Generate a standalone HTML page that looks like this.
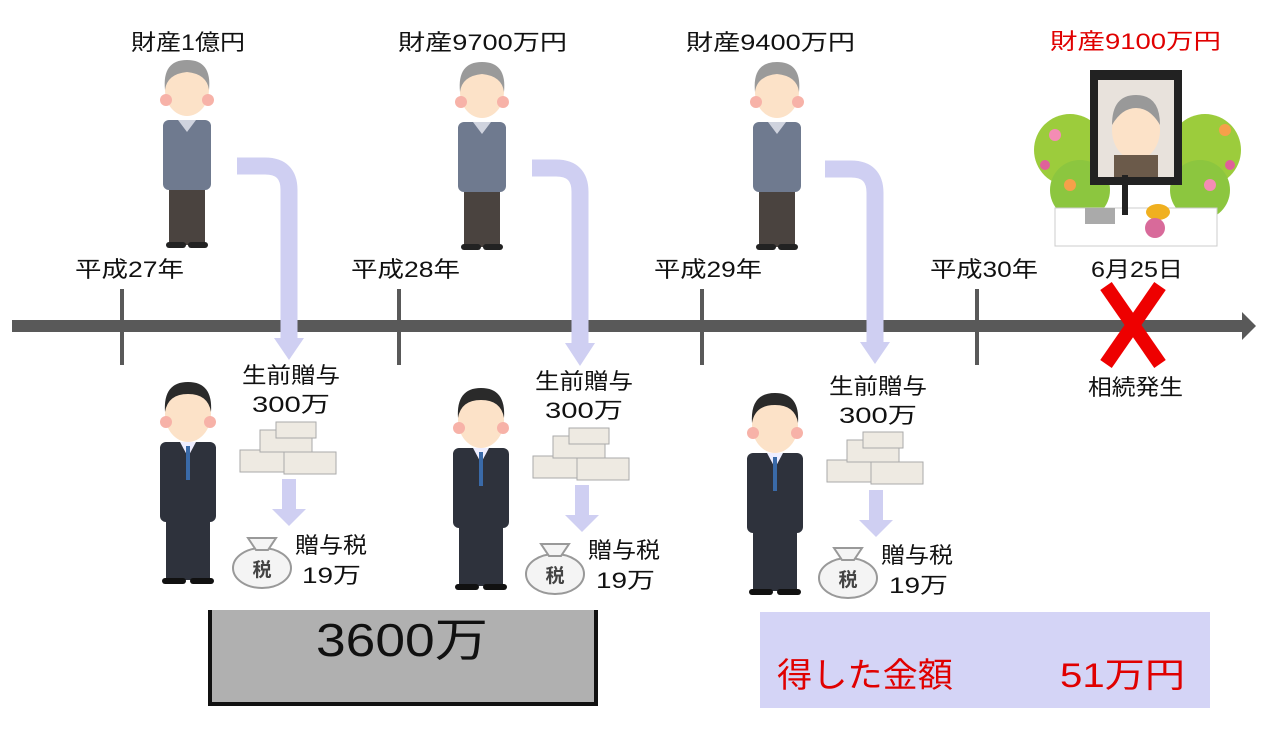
<!DOCTYPE html>
<html><head><meta charset="utf-8"><style>
body{margin:0;background:#fff;}
svg{display:block;}
text{font-family:"Liberation Sans","Noto Sans CJK JP",sans-serif;}
</style></head><body>
<svg width="1280" height="736" viewBox="0 0 1280 736" xmlns="http://www.w3.org/2000/svg">
<defs>
<g id="old">
  <ellipse cx="27" cy="30" rx="22" ry="26" fill="#fce2c8"/>
  <path d="M5 30 Q2 0 27 0 Q52 0 49 30 Q47 14 27 12 Q7 14 5 30Z" fill="#9a9a9a"/>
  <circle cx="6" cy="40" r="6" fill="#f7b2a8"/><circle cx="48" cy="40" r="6" fill="#f7b2a8"/>
  <rect x="3" y="60" width="48" height="70" rx="6" fill="#6f7a8f"/>
  <path d="M18 60 L27 72 L36 60Z" fill="#cfd3de"/>
  <rect x="9" y="130" width="36" height="55" fill="#4a433f"/>
  <rect x="6" y="182" width="20" height="6" rx="3" fill="#222"/><rect x="28" y="182" width="20" height="6" rx="3" fill="#222"/>
</g>
<g id="man">
  <ellipse cx="30" cy="32" rx="23" ry="28" fill="#fce2c8"/>
  <path d="M7 30 Q5 0 30 0 Q55 0 53 30 Q50 12 30 12 Q10 12 7 30Z" fill="#2a2a2a"/>
  <circle cx="8" cy="40" r="6" fill="#f7b2a8"/><circle cx="52" cy="40" r="6" fill="#f7b2a8"/>
  <rect x="2" y="60" width="56" height="80" rx="6" fill="#2e323c"/>
  <path d="M22 60 L30 75 L38 60Z" fill="#eef"/>
  <rect x="28" y="64" width="4" height="34" fill="#3a6aa8"/>
  <rect x="8" y="140" width="44" height="58" fill="#2e323c"/>
  <rect x="4" y="196" width="24" height="6" rx="3" fill="#111"/><rect x="32" y="196" width="24" height="6" rx="3" fill="#111"/>
</g>
<g id="money">
  <g fill="#eeeae2" stroke="#aaa" stroke-width="1">
  <rect x="0" y="28" width="46" height="22"/><rect x="44" y="30" width="52" height="22"/>
  <rect x="20" y="8" width="52" height="22"/><rect x="36" y="0" width="40" height="16"/>
  </g>
</g>
<g id="bag">
  <ellipse cx="30" cy="36" rx="29" ry="20" fill="#f4f4f4" stroke="#999" stroke-width="2"/>
  <path d="M16 6 L44 6 L36 18 L24 18Z" fill="#f4f4f4" stroke="#999" stroke-width="2"/>
  <text x="30" y="44" font-size="19" font-weight="bold" text-anchor="middle" fill="#444">税</text>
</g>
</defs>

<!-- timeline -->
<rect x="12" y="320" width="1232" height="12" fill="#595959"/>
<path d="M1242 312 L1256 326 L1242 340Z" fill="#595959"/>
<g fill="#595959">
<rect x="120" y="289" width="4" height="76"/>
<rect x="397" y="289" width="4" height="76"/>
<rect x="700" y="289" width="4" height="76"/>
<rect x="975" y="289" width="4" height="76"/>
</g>

<g font-size="22" fill="#111" lengthAdjust="spacingAndGlyphs">
<text x="75" y="277" textLength="109" lengthAdjust="spacingAndGlyphs">平成27年</text>
<text x="351" y="277" textLength="109" lengthAdjust="spacingAndGlyphs">平成28年</text>
<text x="654" y="277" textLength="108" lengthAdjust="spacingAndGlyphs">平成29年</text>
<text x="930" y="277" textLength="108" lengthAdjust="spacingAndGlyphs">平成30年</text>
<text x="1091" y="277" textLength="92" lengthAdjust="spacingAndGlyphs">6月25日</text>
<text x="131" y="50" textLength="114" lengthAdjust="spacingAndGlyphs">財産1億円</text>
<text x="398" y="50" textLength="169" lengthAdjust="spacingAndGlyphs">財産9700万円</text>
<text x="686" y="50" textLength="169" lengthAdjust="spacingAndGlyphs">財産9400万円</text>
<text x="1050" y="49" fill="#e00000" textLength="171" lengthAdjust="spacingAndGlyphs">財産9100万円</text>
<text x="1088" y="395" textLength="95" lengthAdjust="spacingAndGlyphs">相続発生</text>
</g>

<!-- curved arrows -->
<g fill="none" stroke="#cfcff2" stroke-width="17">
<path d="M237 166 L265 166 Q289 166 289 190 L289 340"/>
<path d="M532 168 L556 168 Q580 168 580 192 L580 345"/>
<path d="M825 169 L851 169 Q875 169 875 193 L875 345"/>
</g>
<g fill="#cfcff2">
<path d="M274 338 L304 338 L289 360Z"/>
<path d="M565 343 L595 343 L580 366Z"/>
<path d="M860 342 L890 342 L875 364Z"/>
</g>

<!-- people -->
<use href="#old" x="160" y="60"/>
<use href="#old" x="455" y="62"/>
<use href="#old" x="750" y="62"/>
<use href="#man" x="158" y="382"/>
<use href="#man" x="451" y="388"/>
<use href="#man" x="745" y="393"/>

<!-- gifts -->
<g font-size="22" fill="#111">
<text x="242" y="383" textLength="98" lengthAdjust="spacingAndGlyphs">生前贈与</text><text x="252" y="412" textLength="78" lengthAdjust="spacingAndGlyphs">300万</text>
<text x="535" y="389" textLength="98" lengthAdjust="spacingAndGlyphs">生前贈与</text><text x="545" y="418" textLength="78" lengthAdjust="spacingAndGlyphs">300万</text>
<text x="829" y="394" textLength="98" lengthAdjust="spacingAndGlyphs">生前贈与</text><text x="839" y="423" textLength="78" lengthAdjust="spacingAndGlyphs">300万</text>
</g>
<use href="#money" x="240" y="422"/>
<use href="#money" x="533" y="428"/>
<use href="#money" x="827" y="432"/>
<g fill="#cfcff2">
<rect x="282" y="479" width="14" height="30"/><path d="M272 509 L306 509 L289 526Z"/>
<rect x="575" y="485" width="14" height="30"/><path d="M565 515 L599 515 L582 532Z"/>
<rect x="869" y="490" width="14" height="30"/><path d="M859 520 L893 520 L876 537Z"/>
</g>
<use href="#bag" x="232" y="532"/>
<use href="#bag" x="525" y="538"/>
<use href="#bag" x="818" y="542"/>
<g font-size="22" fill="#111">
<text x="295" y="553" textLength="72" lengthAdjust="spacingAndGlyphs">贈与税</text><text x="302" y="583" textLength="59" lengthAdjust="spacingAndGlyphs">19万</text>
<text x="588" y="558" textLength="72" lengthAdjust="spacingAndGlyphs">贈与税</text><text x="596" y="588" textLength="59" lengthAdjust="spacingAndGlyphs">19万</text>
<text x="881" y="563" textLength="72" lengthAdjust="spacingAndGlyphs">贈与税</text><text x="889" y="593" textLength="59" lengthAdjust="spacingAndGlyphs">19万</text>
</g>

<!-- memorial -->
<g>
<circle cx="1070" cy="150" r="36" fill="#9ccc3c"/>
<circle cx="1205" cy="150" r="36" fill="#9ccc3c"/>
<circle cx="1080" cy="190" r="30" fill="#8cc63f"/>
<circle cx="1200" cy="190" r="30" fill="#8cc63f"/>
<circle cx="1055" cy="135" r="6" fill="#f48cb4"/><circle cx="1225" cy="130" r="6" fill="#f6a04a"/>
<circle cx="1070" cy="185" r="6" fill="#f6a04a"/><circle cx="1210" cy="185" r="6" fill="#f48cb4"/>
<circle cx="1045" cy="165" r="5" fill="#e0609a"/><circle cx="1230" cy="165" r="5" fill="#e0609a"/>
<rect x="1090" y="70" width="92" height="115" fill="#222"/>
<rect x="1098" y="80" width="76" height="97" fill="#e8e2dc"/>
<ellipse cx="1136" cy="130" rx="24" ry="30" fill="#fce2c8"/>
<path d="M1112 125 Q1112 95 1136 95 Q1160 95 1160 125 Q1150 108 1136 108 Q1122 108 1112 125Z" fill="#999"/>
<rect x="1114" y="155" width="44" height="22" fill="#6b5a4a"/>
<rect x="1055" y="208" width="162" height="38" fill="#fff" stroke="#ccc"/>
<rect x="1085" y="208" width="30" height="16" fill="#aaa"/>
<rect x="1122" y="175" width="6" height="40" fill="#222"/>
<ellipse cx="1158" cy="212" rx="12" ry="8" fill="#f0b020"/>
<ellipse cx="1155" cy="228" rx="10" ry="10" fill="#d86a9a"/>
</g>
<!-- X -->
<g stroke="#ee0000" stroke-width="14" stroke-linecap="butt">
<line x1="1106" y1="286" x2="1160" y2="364"/>
<line x1="1160" y1="286" x2="1106" y2="364"/>
</g>

<!-- boxes -->
<rect x="210" y="610" width="386" height="94" fill="#b0b0b0"/>
<path d="M210 610 L210 704 L596 704 L596 610" fill="none" stroke="#111" stroke-width="4"/>
<text x="316" y="656" font-size="46" fill="#111" textLength="172" lengthAdjust="spacingAndGlyphs">3600万</text>

<rect x="760" y="612" width="450" height="96" fill="#d4d4f6"/>
<text x="777" y="687" font-size="34" fill="#e00000" textLength="176" lengthAdjust="spacingAndGlyphs">得した金額</text>
<text x="1060" y="687" font-size="34" fill="#e00000" textLength="125" lengthAdjust="spacingAndGlyphs">51万円</text>
</svg>
</body></html>
